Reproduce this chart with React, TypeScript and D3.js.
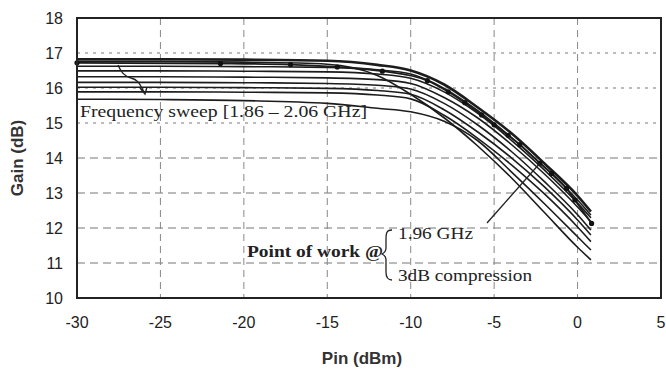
import * as d3 from "d3";

// Pin sweep (dBm) shared by the plain curves
const pin = [-30, -25, -20, -15, -12, -10, -8, -6, -4, -2, 0, 0.8];

// gain (dB) of each frequency of the sweep
const gainA = [16.82, 16.82, 16.81, 16.78, 16.66, 16.5, 16.1, 15.45, 14.72, 13.85, 12.92, 12.47];
const gainX = [16.76, 16.76, 16.74, 16.68, 16.36, 15.82, 15.15, 14.35, 13.45, 12.45, 11.45, 11.09];
const gainC = [16.62, 16.62, 16.61, 16.59, 16.52, 16.4, 15.99, 15.36, 14.6, 13.75, 12.8, 12.37];
const gainD = [16.49, 16.49, 16.48, 16.46, 16.4, 16.28, 15.89, 15.28, 14.52, 13.66, 12.71, 12.29];
const gainE = [16.32, 16.32, 16.31, 16.29, 16.24, 16.13, 15.73, 15.15, 14.4, 13.55, 12.6, 12.18];
const gainF = [16.16, 16.16, 16.15, 16.13, 16.08, 15.97, 15.56, 14.95, 14.2, 13.33, 12.38, 11.94];
const gainG = [16.02, 16.02, 16.01, 15.99, 15.93, 15.82, 15.38, 14.75, 14.02, 13.18, 12.23, 11.8];
const gainH = [15.89, 15.89, 15.88, 15.86, 15.8, 15.69, 15.22, 14.57, 13.82, 12.98, 12.03, 11.61];
const gainJ = [15.68, 15.67, 15.64, 15.56, 15.42, 15.32, 15.05, 14.5, 13.62, 12.7, 11.75, 11.37];

// the 1.96 GHz curve, drawn with dots
const pinMark = [-30, -21.4, -17.2, -14.4, -11.7, -9, -7.75, -6.75, -5.75, -5, -4.16, -3.46, -2.26, -1.56, -0.66, -0.16, 0.84];
const gainMark = [16.72, 16.7, 16.67, 16.6, 16.48, 16.21, 15.89, 15.58, 15.23, 14.95, 14.65, 14.38, 13.85, 13.56, 13.13, 12.8, 12.13];

// point of work (3dB compression)
const workPin = -2.26;
const workGain = 13.85;

const xTicks = [-30, -25, -20, -15, -10, -5, 0, 5];
const yTicks = [10, 11, 12, 13, 14, 15, 16, 17, 18];

const W = 666;
const H = 369;
const left = 77, right = 661, top = 18, bottom = 298;

export default function App() {
  const x = d3.scaleLinear().domain([-30, 5]).range([left, right]);
  const y = d3.scaleLinear().domain([10, 18]).range([bottom, top]);

  const line = d3
    .line<[number, number]>()
    .x((d) => x(d[0]))
    .y((d) => y(d[1]))
    .curve(d3.curveMonotoneX);

  const curves = [gainX, gainC, gainD, gainE, gainF, gainG, gainH, gainJ];
  const markPts = pinMark.map((p, i) => [p, gainMark[i]] as [number, number]);

  const sans = "Liberation Sans, Arial, sans-serif";
  const serif = "Liberation Serif, Times New Roman, serif";

  return (
    <svg width={W} height={H} style={{ position: "absolute", left: 0, top: 0, background: "#fff" }}>
      {/* grid */}
      {yTicks.slice(1, -1).map((t) => (
        <line key={"gy" + t} x1={left} x2={right} y1={y(t)} y2={y(t)}
          stroke="#777" strokeWidth={1} strokeDasharray={t >= 15 ? "3,5" : "8,5"} />
      ))}
      {xTicks.slice(1, -1).map((t) => (
        <line key={"gx" + t} x1={x(t)} x2={x(t)} y1={top} y2={bottom}
          stroke="#888" strokeWidth={1} strokeDasharray="7,5" />
      ))}

      {/* curves */}
      <g fill="none" stroke="#1c1c1c" strokeLinejoin="round">
        {curves.map((g, k) => (
          <path key={k} d={line(pin.map((p, i) => [p, g[i]] as [number, number])) || ""} strokeWidth={1.6} />
        ))}
        <path d={line(markPts) || ""} strokeWidth={1.8} />
        <path d={line(pin.map((p, i) => [p, gainA[i]] as [number, number])) || ""} strokeWidth={2.6} />
      </g>
      {markPts.map((d, i) => (
        <circle key={i} cx={x(d[0])} cy={y(d[1])} r={2.6} fill="#111" />
      ))}

      {/* frame */}
      <rect x={left} y={top} width={right - left} height={bottom - top} fill="none" stroke="#222" strokeWidth={2} />

      {/* tick labels */}
      {yTicks.map((t) => (
        <text key={"ty" + t} x={63} y={y(t)} dy="0.36em" textAnchor="end"
          fontFamily={sans} fontSize={16} fill="#222">{t}</text>
      ))}
      {xTicks.map((t) => (
        <text key={"tx" + t} x={x(t)} y={328} textAnchor="middle"
          fontFamily={sans} fontSize={16} fill="#222">{t}</text>
      ))}

      {/* axis titles */}
      <text transform={`translate(23,${(top + bottom) / 2}) rotate(-90)`} textAnchor="middle"
        fontFamily={sans} fontSize={17} fontWeight="bold" fill="#333">Gain (dB)</text>
      <text x={362} y={364} textAnchor="middle" fontFamily={sans} fontSize={17} fontWeight="bold" fill="#333">Pin (dBm)</text>

      {/* frequency sweep note */}
      <path d="M118,65 C121,72 124,76 131,78 C139,80 140,85 144,92" fill="none" stroke="#222" strokeWidth={1.4} />
      <path d="M140,88 L145,94 L147,87" fill="none" stroke="#222" strokeWidth={1.4} />
      <text x={80} y={117} fontFamily={serif} fontSize={17} fill="#222" textLength={287} lengthAdjust="spacingAndGlyphs">
        Frequency sweep  [1.86 – 2.06 GHz]
      </text>

      {/* point of work note */}
      <text x={247} y={257} fontFamily={serif} fontSize={16} fontWeight="bold" fill="#222" textLength={136} lengthAdjust="spacingAndGlyphs">
        Point of work @
      </text>
      <path d="M392,230 C386,230 386,234 386,240 L386,248 C386,252 384,253 382,254 C384,255 386,256 386,260 L386,272 C386,278 388,280 392,280"
        fill="none" stroke="#222" strokeWidth={1.3} />
      <text x={398} y={239} fontFamily={serif} fontSize={17} fill="#222" textLength={75} lengthAdjust="spacingAndGlyphs">1.96 GHz</text>
      <text x={398} y={281} fontFamily={serif} fontSize={17} fill="#222" textLength={134} lengthAdjust="spacingAndGlyphs">3dB compression</text>
      <line x1={487} y1={223} x2={x(workPin)} y2={y(workGain)} stroke="#222" strokeWidth={1.3} />
    </svg>
  );
}
